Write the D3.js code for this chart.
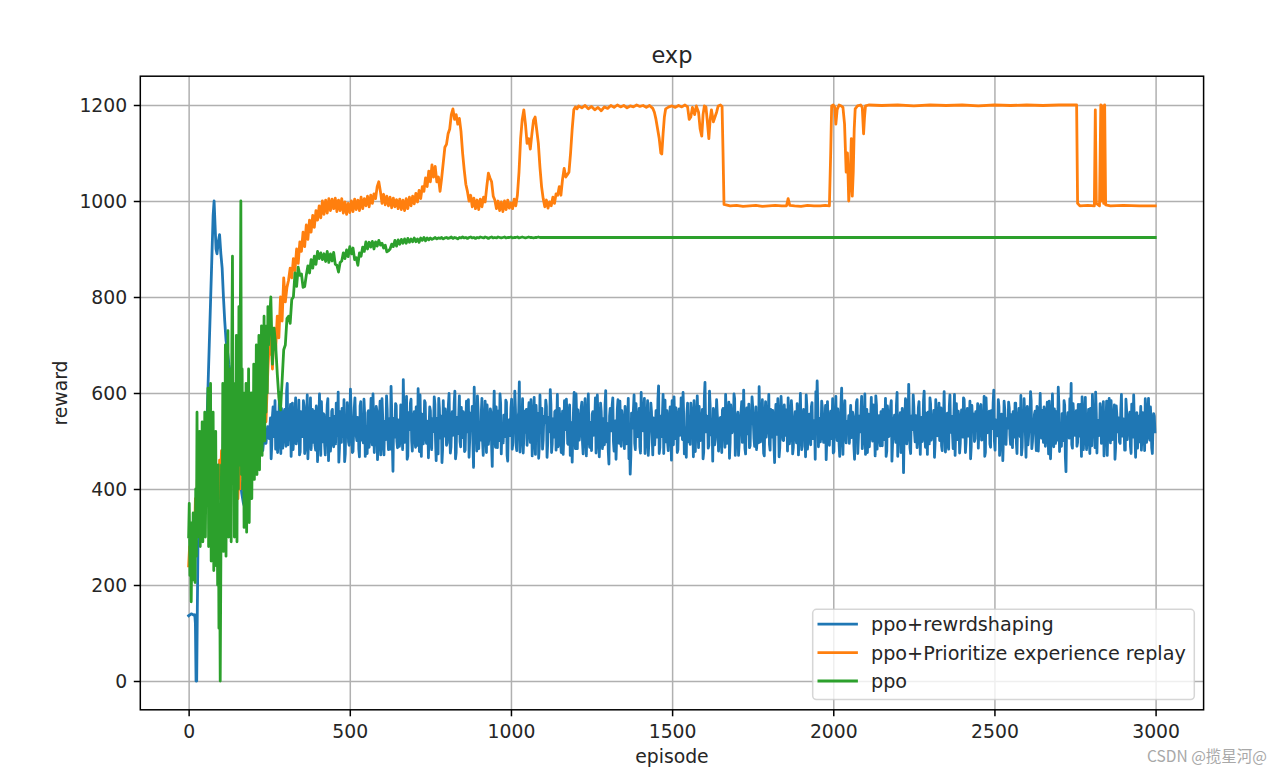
<!DOCTYPE html>
<html><head><meta charset="utf-8">
<script src="https://cdn.jsdelivr.net/npm/d3@7/dist/d3.min.js"></script>
<style>body{margin:0;background:#fff}svg{display:block}</style>
</head><body><svg id="c" width="1280" height="776"></svg>
<script>
// ---------------- DATA ----------------
const chartTitle = "exp";
const xLabel = "episode";
const yLabel = "reward";
const seriesNames = ["ppo+rewrdshaping", "ppo+Prioritize experience replay", "ppo"];
const seriesColors = ["#1f77b4", "#ff7f0e", "#2ca02c"];
const xTicks = [0, 500, 1000, 1500, 2000, 2500, 3000];
const yTicks = [0, 200, 400, 600, 800, 1000, 1200];
const lastEpisode = 2999;

// ppo+rewrdshaping (blue)
const blueHeadEp = [0,4,8,12,16,19,21,23,25,27,29,32,36,40,44,48,52,56,60,64,68,72,76,79,82,85,88,92,96,100,104,108,112,116,120,125,130,135,140,145,150,155,160,165,170,175,180,185,190,195,200,205,210,215,220,225,230,235,240,245];
const blueHeadVal = [136,138,140,139,137,138,120,0,0,150,285,300,295,305,300,380,450,520,610,700,790,880,970,1000,950,900,890,915,930,890,860,800,750,710,690,660,640,610,590,560,500,460,420,390,370,360,380,410,440,420,460,500,480,520,490,505,480,515,495,530];
// noise readings at episodes 250, 254, 258, ...
const blueNoiseStartA = 250, blueNoiseStep = 4;
const blueNoiseA = [
505,548,492,571,516,483,560,529,601,474,538,512,566,489,620,521,547,468,579,503,556,494,532,585,477,
541,509,573,486,552,463,528,590,515,497,562,481,544,526,598,470,535,557,492,518,575,459,547,503,566,
488,533,579,512,456,561,497,545,586,473,524,553,491,608,517,478,569,536,501,548,467,582,519,496,557,
530,474,563,505,589,492,541,518,572,461,536,583,498,551,471,527,594,509,546,483,565,437,522,578,500,
544,489,575,516,628,497,538,462,559,524,587,479,548,506,571,491,533,596,468,552,513,580,495,541,527,
563,482,519,592,501,547,473,568,529,455,584,510,543,496,577,522,488,561,534,604,476,515,553,499,570,
507,546,481,583,523,466,558,537,495,612,514,479,566,528,502,589,470,542,519,575,493,531,560,447,548,
516,571,486,539,598,473,527,554,509,581,458,544,521,587,497,533,566,480,549,623,502,536,475,562,518,
491,557,528,586,469,542,505,574,513,464,596,527,483,551,538,572,495,519,607,476,546,508,563,532,488,
568,501,537,472,584,524,549,493,575,511,456,563,529,598,484,541,517,570,496,532,588,469,554,507,539,
480,561,526,590,503,545,467,579,516,538,492,605,521,478,552,535,574,498,527,462,566,511,583,489,547,
519,572,494,540,463,431,558,527,596,482,534,509,568,475,546,521,589,499,553,470,537,579,513,548,492,
563,508,615,487,531,556,474,585,520,497,543,571,460,528,592,505,550,482,567,516,539,601,473,524,557,
498,545,579,512,467,553,530,594,486,538,508,566,477,622,519,547,491,574,529,458,561,503,586,535,512,
549,476,568,521,597,495,540,464,575,517,533,588,502,551,470,529,563,497,606,484,542,515,577,490,536,
571,505,530,482,559,613,498,544,520,469,582,527,551,493,566,508,539,455,576,514,547,486,593,522,501,
538,565,479,552,509,584,473,526,561,496,540,517,599,482,548,531,467,573,505,556,492,580,519,543,603,
625,488,547,514,570,497,533,461,582,526,545,505,588,478,552,520,567,494,535,610,472,559,511,541,527,
495,574,518,551,462,539,586,507,530,563,484,547,598,513,476,556,528,591,500,542,469,575,521,553,490,
537,566,503,589,479,545,512,572,458,530,554,497,601,521,543,476,568,434,540,583,509,618,486,552,524,
571,498,540,515,582,472,549,526,604,487,533,560,494,577,511,543,466,586,520,535,501,569,480,548,529,
507,558,483,596,531,512,547,470,578,523,539,495,565,508,587,476,550,519,542,463,574,528,499,561,534,
485,549,576,503,532,468,590,517,545,494,563,526,606,481,538,511,571,497,556,459,583,514,540,527,569,
493,537,561,508,579,474,546,520,595,487,531,553,466,572,510,541,584,498,525,562,480,547,515,599,506,
534,571,489,552,517,583,463,540,506,567,495,548,612,478,529,557,501,574,436,542,520,588,620,485,551,
512,563,497,538,576,468,545,523,591,482,534,509,568,490,551,527,602,475,543,516,560,499,582,513,537,
470,556,528,584,503,541,462,573,519,548,495,597,510,536,481,565,524,552,489,577,508,543,466,559,531,
498,572,515,546,480,563,527,589,502,540,474,557,519];
// noise readings at episodes 252, 256, 260, ...
const blueNoiseStartB = 252;
const blueNoiseB = [
527,463,552,509,584,531,476,545,497,568,485,559,521,603,492,537,576,514,482,549,590,507,536,471,561,
519,584,474,537,596,503,548,482,566,529,491,573,457,540,513,582,498,555,471,534,588,520,479,562,506,
551,494,538,602,485,527,568,509,457,543,580,498,532,565,476,521,590,511,549,483,573,502,539,587,468,
512,559,487,545,523,598,476,534,563,496,550,471,588,517,541,503,566,482,529,614,495,547,508,574,486,
537,505,566,482,549,520,593,469,541,578,500,532,561,487,545,609,478,523,556,494,584,512,538,465,571,
498,546,525,577,459,534,589,506,552,483,520,567,491,543,599,475,537,512,580,463,549,526,594,488,532,
561,478,540,519,586,502,531,572,445,548,521,594,484,537,560,499,528,583,476,545,511,567,489,552,604,
487,539,562,501,578,525,496,548,585,470,536,511,569,483,552,604,491,527,560,477,543,588,508,531,566,
524,580,497,545,516,591,472,538,557,489,531,568,502,543,585,466,549,520,576,494,538,561,481,597,510,
543,476,562,508,531,587,495,552,470,538,519,601,484,546,565,502,529,581,473,556,512,544,598,487,523,
556,512,541,475,596,528,503,561,484,547,575,498,536,452,568,521,590,479,542,507,586,495,533,563,518,
484,546,527,589,502,470,541,566,495,578,513,542,488,601,526,557,474,539,584,498,532,561,471,545,523,
540,587,474,552,509,597,531,498,563,480,549,519,584,492,537,569,476,543,512,590,503,551,528,466,579,
526,493,561,537,584,478,516,548,572,501,539,463,590,527,552,485,604,513,540,568,492,531,557,479,546,
503,564,530,487,552,518,581,497,543,526,598,470,535,560,494,548,582,511,537,473,569,528,486,554,592,
538,489,571,512,496,545,527,586,474,553,508,540,597,481,528,564,495,546,519,588,467,534,559,502,575,
512,547,590,494,537,561,486,544,509,578,471,553,525,489,566,538,596,483,529,547,571,505,538,462,558,
571,536,498,583,520,548,574,504,533,491,562,527,475,556,593,501,538,468,579,522,546,584,496,530,553,
542,507,560,489,536,581,474,552,519,593,503,539,472,566,531,488,548,512,575,527,594,483,546,509,561,
490,552,527,468,573,509,546,584,495,541,512,576,468,535,559,503,547,521,588,494,531,557,474,543,596,
518,553,486,569,527,541,499,584,513,558,472,537,590,502,526,564,497,548,511,579,536,490,555,603,477,
546,491,572,518,551,484,597,529,503,562,475,544,518,590,536,497,568,510,583,488,542,556,505,531,578,
528,571,502,539,593,476,548,526,562,487,532,579,499,544,515,586,470,552,529,508,566,493,547,581,512,
555,486,543,579,497,532,568,509,471,541,588,516,549,492,536,603,484,527,555,511,572,479,543,530,564,
497,552,527,581,473,546,510,598,488,536,561,502,574,517,489,542,584,467,531,559,506,544,492,578,525,
541,489,576,510,533,592,482,551,507,538,566,474,545,597,523,486,559,532,511,578,495,540,469,555,583,
527,589,496,541,512,575,487,552,530,498,564,519,546,481,587,503,538,560,474,541,596,512,537,485,552,
536,481,559,524,588,497,542,510,571,486,533,552];

// ppo+Prioritize experience replay (orange)
const orangeHeadStart = 0, orangeHeadStep = 3;
const orangeHeadVal = [
240,280,230,310,260,330,290,380,300,420,
350,400,330,450,370,420,340,480,400,520,
430,380,460,410,350,430,390,470,420,370,
440,380,460,410,480,430,500,450,520,470,
540,490,560,510,470,520,480,430,400,370,
420,380,450,400,480,440,520,470,560,510,
590,540,580,530,560,520,580,550,610,570,
640,600,690,650,710,660,700,640,600,560,
540,600,650,690];
const orangeMidStart = 250, orangeMidStep = 5;
const orangeMidVal = [
680,725,650,735,690,760,715,800,750,840,
790,820,835,860,840,880,855,900,870,915,
895,935,905,950,920,960,935,970,945,980,
960,990,965,1000,972,1002,975,1005,980,1004,
984,1006,978,1002,980,1005,975,998,972,995,
976,1000,978,1004,982,1002,980,1008,984,1005,
990,1010,988,1012,995,1015,1005,1030,1040,1020,
995,1014,992,1010,990,1008,986,1006,988,1003,
984,1004,982,1002,980,1005,984,1008,990,1010,
994,1016,998,1022,1005,1030,1020,1048,1030,1062,
1040,1075,1050,1072,1040,1050,1020,1048,1080,1112,
1118,1140,1150,1180,1192,1170,1180,1160,1172,1145,
1100,1065,1035,1020,1000,1012,988,1006,984,1002,
982,1004,988,1008,998,1030,1058,1048,1040,1010,
1002,984,1000,980,998,978,1000,982,1002,985,
996,984,1004,990,1012,1060,1130,1170,1190,1160,
1120,1130,1108,1140,1168,1175,1148,1120,1070,1030,
1005,988,1002,985,998,990,1008,995,1015,1012,
1030,1012,1045,1068,1050,1055,1060,1100,1150,1190,
1196];
const orangeTailEp = [1205,1210,1220,1230,1240,1250,1260,1270,1280,1290,1300,1310,1320,1330,1340,1350,1360,1370,1380,1390,1400,1410,1420,1430,1440,1445,1450,1455,1460,1465,1468,1472,1476,1480,1490,1500,1510,1520,1530,1540,1548,1553,1558,1563,1570,1575,1582,1587,1592,1596,1600,1605,1610,1614,1618,1622,1628,1633,1638,1643,1650,1655,1658,1661,1680,1700,1720,1740,1760,1780,1800,1820,1840,1855,1860,1865,1880,1900,1920,1940,1960,1975,1988,1992,1995,2000,2005,2008,2012,2018,2025,2030,2035,2040,2044,2048,2052,2056,2059,2062,2065,2068,2075,2085,2090,2094,2097,2100,2110,2150,2200,2250,2300,2350,2400,2450,2500,2550,2600,2650,2700,2755,2758,2765,2790,2810,2813,2816,2826,2830,2833,2836,2839,2842,2845,2860,2900,2950,2999];
const orangeTailVal = [1192,1198,1194,1199,1192,1197,1190,1195,1188,1196,1193,1199,1195,1200,1196,1199,1194,1198,1196,1200,1197,1199,1195,1199,1193,1185,1170,1150,1130,1100,1098,1140,1175,1192,1196,1198,1195,1199,1196,1200,1196,1170,1175,1195,1180,1198,1185,1150,1135,1180,1198,1196,1160,1130,1170,1190,1165,1175,1185,1198,1200,1197,1100,993,990,991,989,990,991,989,990,991,990,990,1005,991,990,989,991,990,990,991,990,1100,1198,1200,1195,1160,1190,1200,1198,1195,1160,1060,1100,1000,1040,1130,1010,1060,1150,1192,1198,1200,1195,1140,1175,1198,1200,1199,1200,1198,1200,1199,1200,1198,1200,1199,1200,1199,1200,1200,995,990,991,990,1190,995,990,1200,1000,1198,995,1200,992,990,991,990,990];

// ppo (green)
const greenHeadStart = 0, greenHeadStep = 2;
const greenHeadVal = [
300,370,220,330,165,280,210,350,240,320,
205,400,260,560,300,480,330,520,280,450,
360,540,290,500,330,560,300,470,380,520,
610,280,540,330,620,250,500,300,560,230,
450,280,520,240,400,200,450,110,300,0,
250,450,300,620,270,560,350,700,260,600,
380,730,300,650,420,600,290,700,885,420,
620,300,560,350,720,290,650,400,780,450,
700,1000,430,650,400,600,320,580,350,620,
310,560,400,650,330,520,420,600,380,560,
460,660,420,600,480,700,430,620,500,720,
440,680,520,740,470,700,540,760,500,720,
560,740,600,780,700];
const greenMidStart = 250, greenMidStep = 5;
const greenMidVal = [
740,800,660,735,700,640,590,565,625,690,
700,755,760,745,795,800,850,822,862,845,
848,820,822,845,865,850,878,860,885,868,
895,880,892,878,890,874,895,872,890,875,
893,868,866,852,872,875,892,880,898,884,
905,890,902,878,882,866,892,885,904,895,
915,900,914,904,916,900,915,906,918,908,
912,902,908,894,896,900,910,905,918,906,
919,910,920,912,921,912,922,914,921,915,
923,915,921,914,923,918,924,917,923,919,
923,920,922,924,921,923,922,924,921,923,
924,922,923,925,922,924,923,921,924,923,
925,923,924,922,924,925,923,924,922,924,
923,925,924,923,925,924,922,924,925,923,
924,923,925,924,923,924,925,923,924,924,
925,923,924,924,925,923,924,925,924,923,
924,925,924,924,923,924,924,925,924,924];
const greenTailEp = [1100, 2999];
const greenTailVal = [924, 924];

// ---------------- BUILD ----------------
const seq = (start, step, vals) => vals.map((v, i) => [start + i * step, v]);
const zip = (eps, vals) => eps.map((e, i) => [e, vals[i]]);
const byEp = (a, b) => a[0] - b[0];
const blueData = zip(blueHeadEp, blueHeadVal)
  .concat(seq(blueNoiseStartA, blueNoiseStep, blueNoiseA), seq(blueNoiseStartB, blueNoiseStep, blueNoiseB))
  .sort(byEp);
const orangeData = seq(orangeHeadStart, orangeHeadStep, orangeHeadVal)
  .concat(seq(orangeMidStart, orangeMidStep, orangeMidVal), zip(orangeTailEp, orangeTailVal));
const greenData = seq(greenHeadStart, greenHeadStep, greenHeadVal)
  .concat(seq(greenMidStart, greenMidStep, greenMidVal), zip(greenTailEp, greenTailVal));
const allSeries = [blueData, orangeData, greenData];

// ---------------- DRAW ----------------
const W = 1280, H = 776;
const P = {l: 140.3, r: 1203.6, t: 76.2, b: 709.8};
const FONT = "'DejaVu Sans', Verdana, sans-serif";
const FS = 18.8;
const xPad = 0.05 * lastEpisode;
const x = d3.scaleLinear().domain([-xPad, lastEpisode + xPad]).range([P.l, P.r]);
const y = d3.scaleLinear().domain([-60, 1260]).range([P.b, P.t]);

const svg = d3.select("#c");
svg.append("rect").attr("width", W).attr("height", H).attr("fill", "#fff");

// grid
const gridX = svg.append("g").attr("transform", `translate(0,${P.b})`)
  .call(d3.axisBottom(x).tickValues(xTicks).tickSize(-(P.b - P.t)).tickFormat(""));
const gridY = svg.append("g").attr("transform", `translate(${P.l},0)`)
  .call(d3.axisLeft(y).tickValues(yTicks).tickSize(-(P.r - P.l)).tickFormat(""));
[gridX, gridY].forEach(g => {
  g.select(".domain").remove();
  g.selectAll("line").attr("stroke", "#b0b0b0").attr("stroke-width", 1.5);
});

// clip
svg.append("clipPath").attr("id", "clip").append("rect")
  .attr("x", P.l).attr("y", P.t).attr("width", P.r - P.l).attr("height", P.b - P.t);

const line = d3.line().x(d => x(d[0])).y(d => y(d[1]));
svg.append("g").attr("clip-path", "url(#clip)")
  .selectAll("path").data(allSeries).join("path")
  .attr("d", line)
  .attr("fill", "none")
  .attr("stroke", (d, i) => seriesColors[i])
  .attr("stroke-width", 2.8)
  .attr("stroke-linejoin", "round")
  .attr("stroke-linecap", "square");

// axes
const axX = svg.append("g").attr("transform", `translate(0,${P.b})`)
  .call(d3.axisBottom(x).tickValues(xTicks).tickSize(6.5).tickPadding(8.4).tickFormat(d3.format("d")));
const axY = svg.append("g").attr("transform", `translate(${P.l},0)`)
  .call(d3.axisLeft(y).tickValues(yTicks).tickSize(6.5).tickPadding(6.6).tickFormat(d3.format("d")));
[axX, axY].forEach(g => {
  g.select(".domain").remove();
  g.selectAll("line").attr("stroke", "#000").attr("stroke-width", 1.5);
  g.selectAll("text").attr("font-family", FONT).attr("font-size", FS).attr("fill", "#262626");
});
axY.selectAll("text").attr("dy", "0.356em");

// spines
svg.append("rect").attr("x", P.l).attr("y", P.t).attr("width", P.r - P.l).attr("height", P.b - P.t)
  .attr("fill", "none").attr("stroke", "#000").attr("stroke-width", 1.5);

// title and labels
svg.append("text").attr("x", (P.l + P.r) / 2).attr("y", 63.4).attr("text-anchor", "middle")
  .attr("font-family", FONT).attr("font-size", 22.5).attr("fill", "#262626").text(chartTitle);
svg.append("text").attr("x", (P.l + P.r) / 2).attr("y", 763).attr("text-anchor", "middle")
  .attr("font-family", FONT).attr("font-size", FS).attr("fill", "#262626").text(xLabel);
svg.append("text").attr("transform", `translate(67,${(P.t + P.b) / 2}) rotate(-90)`).attr("text-anchor", "middle")
  .attr("font-family", FONT).attr("font-size", FS).attr("fill", "#262626").text(yLabel);

// legend
const L = {x: 812.7, y: 609.3, w: 381.6, h: 90.2};
const leg = svg.append("g");
leg.append("rect").attr("x", L.x).attr("y", L.y).attr("width", L.w).attr("height", L.h)
  .attr("rx", 3.8).attr("ry", 3.8)
  .attr("fill", "rgba(255,255,255,0.8)").attr("stroke", "rgba(204,204,204,0.8)").attr("stroke-width", 1.5);
const rows = leg.selectAll("g.row").data(seriesNames).join("g").attr("class", "row")
  .attr("transform", (d, i) => `translate(0,${624.2 + i * 28.4})`);
rows.append("line").attr("x1", 818.9).attr("x2", 856.5).attr("y1", 0).attr("y2", 0)
  .attr("stroke", (d, i) => seriesColors[i]).attr("stroke-width", 2.8).attr("stroke-linecap", "square");
rows.append("text").attr("x", 871).attr("y", 7.2)
  .attr("font-family", FONT).attr("font-size", 19.2).attr("fill", "#262626").text(d => d);

// watermark
svg.append("text").attr("x", 1267).attr("y", 762).attr("text-anchor", "end")
  .attr("font-family", "'Noto Sans CJK SC', sans-serif").attr("font-size", 15.5)
  .attr("fill", "#a8a8a8").text("CSDN @揽星河@");
</script></body></html>
